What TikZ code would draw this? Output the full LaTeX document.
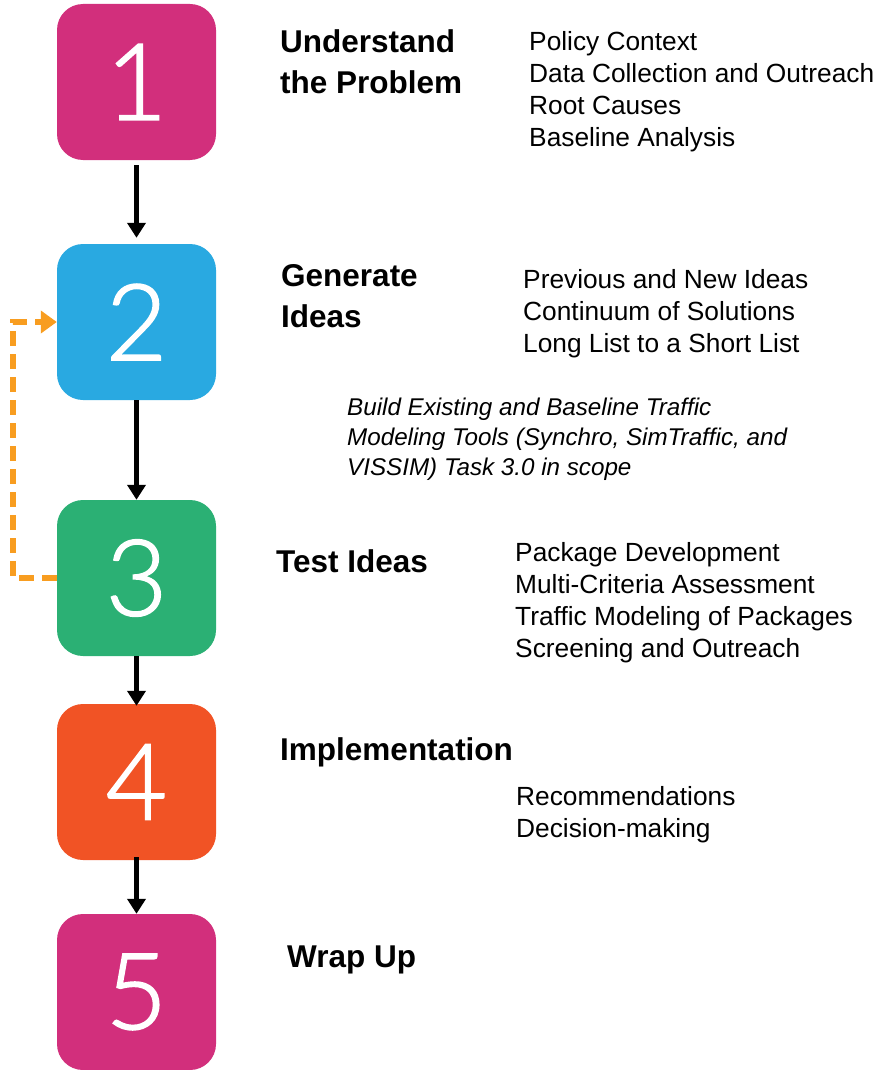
\documentclass[tikz,border=0pt]{standalone}
\usepackage{fontspec}
\setmainfont{Liberation Sans}
\newfontfamily\digitfont{Lato Light}[FakeBold=1.6]
\usepackage{tikz}
\usetikzlibrary{arrows.meta}
\tikzset{>={Triangle[length=15pt,width=18pt]}}
\usepackage{xcolor}
\definecolor{steppink}{HTML}{D22F7C}
\definecolor{stepblue}{HTML}{29A9E1}
\definecolor{stepgreen}{HTML}{2BB074}
\definecolor{steporange}{HTML}{F15325}
\definecolor{backorange}{HTML}{F89D20}
\tikzstyle{stepbox}=[rounded corners=26pt,minimum width=159pt,minimum height=156pt,inner sep=0,text=white,font=\digitfont\fontsize{106}{106}\selectfont]
\tikzstyle{heading}=[anchor=west,align=left,inner sep=0,font=\bfseries\fontsize{31.5}{41}\selectfont]
\tikzstyle{items}=[anchor=west,align=left,inner sep=0,font=\fontsize{26.3}{32}\selectfont]
\tikzstyle{note}=[anchor=west,align=left,inner sep=0,font=\itshape\fontsize{24.2}{30}\selectfont]
\tikzstyle{flow}=[->,line width=5pt]
\tikzstyle{feedback}=[line width=6pt,draw=backorange,dash pattern=on 15pt off 8pt,-{Triangle[length=16pt,width=22pt]}]

\begin{document}
\begin{tikzpicture}[x=1pt,y=-1pt]
	\useasboundingbox (0,0) rectangle (882,1070);
	\node[stepbox,fill=steppink]   at (136.5,82)  (b1) {1};
	\node[stepbox,fill=stepblue]   at (136.5,322) (b2) {2};
	\node[stepbox,fill=stepgreen]  at (136.5,578) (b3) {3};
	\node[stepbox,fill=steporange] at (136.5,782) (b4) {4};
	\node[stepbox,fill=steppink]   at (136.5,992) (b5) {5};

	\draw[flow,shorten <=5pt,shorten >=6pt] (b1.south) -- (b2.north);
	\draw[flow] (b2.south) -- (b3.north);
	\draw[flow,shorten >=-2pt] (b3.south) -- (b4.north);
	\draw[flow,shorten <=-3pt] (b4.south) -- (b5.north);

	\coordinate (back) at (13,450);
	\draw[feedback] (b3.west) -| (back) |- (b2.west);

	\node[heading] at (280,62) (h1) {Understand\\the Problem};
	\node[items] at (529,92) (l1) {Policy Context\\Data Collection and Outreach\\Root Causes\\Baseline Analysis};

	\node[heading] at (281,296) (h2) {Generate\\Ideas};
	\node[items] at (523,314) (l2) {Previous and New Ideas\\Continuum of Solutions\\Long List to a Short List};
	\node[note] at (347,439) (n2) {Build Existing and Baseline Traffic\\Modeling Tools (Synchro, SimTraffic, and\\VISSIM) Task 3.0 in scope};

	\node[heading] at (276,561) (h3) {Test Ideas};
	\node[items] at (515,603) (l3) {Package Development\\Multi-Criteria Assessment\\Traffic Modeling of Packages\\Screening and Outreach};

	\node[heading] at (280,752) (h4) {Implementation};
	\node[items] at (516,815) (l4) {Recommendations\\Decision-making};

	\node[heading] at (287,960) (h5) {Wrap Up};
\end{tikzpicture}
\end{document}
